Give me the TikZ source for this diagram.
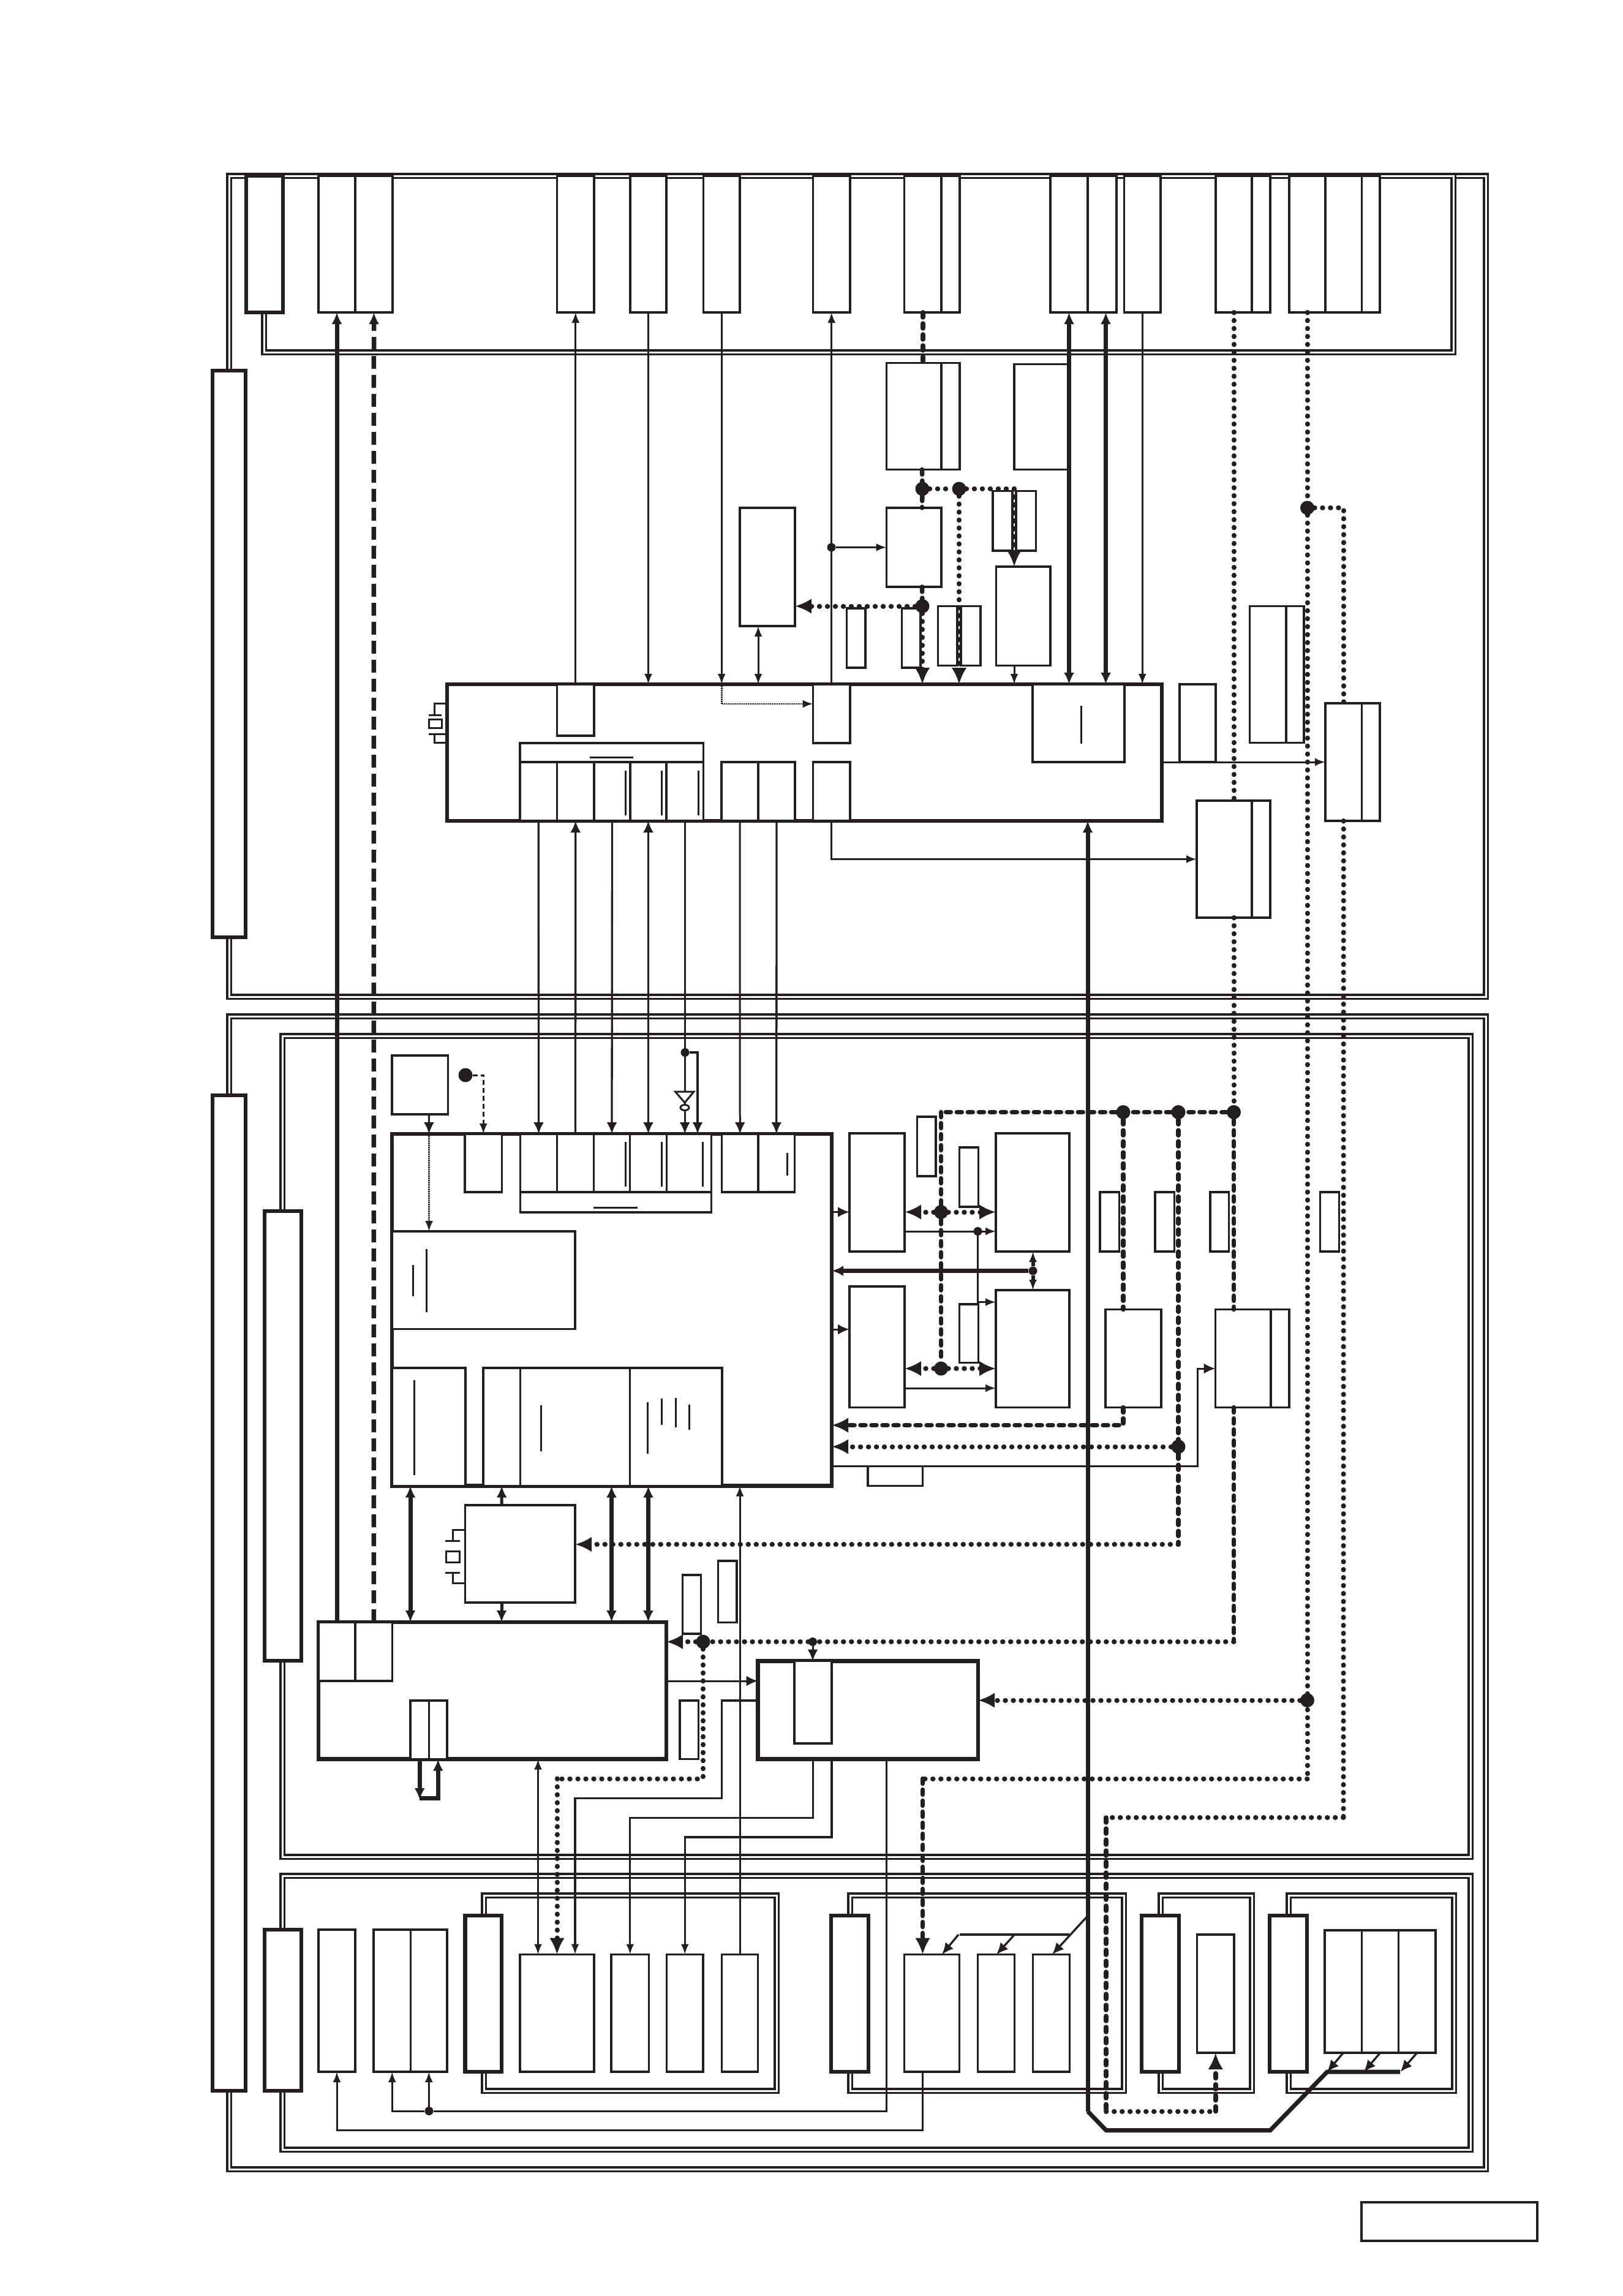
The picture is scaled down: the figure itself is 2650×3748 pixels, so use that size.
\documentclass[tikz,border=0pt]{standalone}
\usepackage{tikz}
\usetikzlibrary{arrows.meta,shapes.geometric}
\definecolor{ink}{HTML}{231F20}
\tikzset{
   smalltip/.tip={Latex[length=17pt,width=13pt]},
   midtip/.tip={Latex[length=19pt,width=17pt]},
   bigtip/.tip={Latex[length=27pt,width=25pt]},
}
\newcommand{\blk}[6][slot]{\node[#1, name=#2, minimum width={#5-#3}, minimum height={#6-#4}] at ({(#3+#5)/2},{(#4+#6)/2}) {};}
\newcommand{\jct}[4][bigdot]{\node[#1, name=#2] at (#3,#4) {};}
\begin{document}
\begin{tikzpicture}[x=1pt,y=-1pt]
  \tikzstyle{slot} = [draw=ink, line width=3.4pt, fill=white, rectangle, inner sep=0pt, outer sep=0pt];
  \tikzstyle{heavy} = [slot, line width=6.5pt];
  \tikzstyle{bay} = [rectangle, draw=ink, line width=3.2pt, double=white, double distance=3pt, inner sep=0pt, outer sep=0pt];
  \tikzstyle{bigdot} = [circle, fill=ink, inner sep=0pt, minimum size=23pt];
  \tikzstyle{smalldot} = [circle, fill=ink, inner sep=0pt, minimum size=14pt];
  \tikzstyle{wire} = [draw=ink, line width=3pt];
  \tikzstyle{midline} = [draw=ink, line width=3.3pt];
  \tikzstyle{bus} = [draw=ink, line width=7pt];
  \tikzstyle{fine} = [draw=ink, line width=2.8pt, dash pattern=on 2pt off 1pt];
  \tikzstyle{slash} = [draw=ink, line width=3pt, dash pattern=on 8pt off 5pt];
  \tikzstyle{longdash} = [draw=ink, line width=7.5pt, dash pattern=on 21pt off 10pt];
  \tikzstyle{dots} = [draw=ink, line width=8pt, line cap=round, dash pattern=on 0.5pt off 12.5pt];
  \tikzstyle{dashes} = [draw=ink, line width=7.5pt, line cap=round, dash pattern=on 8pt off 10pt];
  \tikzstyle{tickmark} = [draw=ink, line width=3pt];
  \useasboundingbox (0,0) rectangle (2650,3748);

  % frames
  \blk[bay]{upperFrame}{374}{287}{2426}{1627}
  \blk[bay]{lowerFrame}{374}{1659}{2426}{3541}
  \blk[bay]{topBay}{431}{287}{2373}{575}
  \blk[bay]{mainBay}{461}{1691}{2401}{3031}
  \blk[bay]{cardBay}{461}{3062}{2401}{3509}
  \blk[bay]{cardA}{790}{3094}{1268}{3413}
  \blk[bay]{cardB}{1388}{3094}{1835}{3413}
  \blk[bay]{cardC}{1895}{3094}{2044}{3413}
  \blk[bay]{cardD}{2104}{3094}{2374}{3413}

  % side bars
  \blk[heavy]{sideTop}{347}{605}{401}{1530}
  \blk[heavy]{sideLow}{347}{1788}{401}{3413}
  \blk[heavy]{sideMain}{432}{1977}{492}{2711}
  \blk[heavy]{sideCard}{432}{3150}{492}{3413}
  \blk[heavy]{headA}{402}{287}{462}{510}

  % top row
  \blk{a1}{520}{287}{580}{510}
  \blk{a2}{580}{287}{641}{510}
  \blk{b1}{909.5}{287}{970}{510}
  \blk{c1}{1029}{287}{1088}{510}
  \blk{d1}{1148.5}{287}{1208}{510}
  \blk{e1}{1327.5}{287}{1388}{510}
  \blk{f1}{1476.5}{287}{1537}{510}
  \blk{f2}{1537}{287}{1567}{510}
  \blk{g1}{1715}{287}{1776}{510}
  \blk{g2}{1776}{287}{1823}{510}
  \blk{h1}{1835.5}{287}{1895}{510}
  \blk{i1}{1985}{287}{2044}{510}
  \blk{i2}{2044}{287}{2074}{510}
  \blk{j1}{2105}{287}{2164}{510}
  \blk{j2}{2164}{287}{2223.5}{510}
  \blk{j3}{2223.5}{287}{2253}{510}

  % upper board
  \blk{memU}{1208}{829}{1298}{1022}
  \blk{rfA}{1447.5}{592.5}{1537}{766.5}
  \blk{rfB}{1537}{592.5}{1567}{766.5}
  \blk{rfC}{1656}{594.5}{1746}{766.5}
  \blk{sensU}{1447.5}{829}{1537}{958}
  \blk{tabA}{1621}{801.5}{1653}{899}
  \blk{tabB}{1659}{801.5}{1691.5}{899}
  \blk{filtU}{1626.5}{925}{1715}{1086.5}
  \blk{padA}{1382.5}{993}{1413}{1090}
  \blk{padB}{1472.5}{993}{1503}{1090}
  \blk{padC}{1531.5}{989.5}{1563}{1086.5}
  \blk{padD}{1569}{989.5}{1601}{1086.5}
  \blk{unitA}{2040.5}{989.5}{2100}{1212.5}
  \blk{unitB}{2100}{989.5}{2129}{1212.5}
  \blk{unitC}{1926}{1117}{1985}{1244}
  \blk{psuA}{1954}{1307}{2044}{1498}
  \blk{psuB}{2044}{1307}{2074}{1498}
  \blk{modA}{2164}{1148}{2223.5}{1340}
  \blk{modB}{2223.5}{1148}{2253}{1340}

  % upper main block
  \blk[heavy]{mainU}{730}{1117}{1897}{1340}
  \blk{portU}{909.5}{1117}{970}{1201}
  \blk{portE}{1327.5}{1117}{1388}{1213}
  \blk{portR}{1686}{1117}{1836}{1244}
  \blk{hdrU}{849}{1213}{1148.5}{1244}
  \blk{u1}{849}{1244}{909.5}{1340}
  \blk{u2}{909.5}{1244}{970}{1340}
  \blk{u3}{970}{1244}{1029}{1340}
  \blk{u4}{1029}{1244}{1088}{1340}
  \blk{u5}{1088}{1244}{1148.5}{1340}
  \blk{u6}{1178}{1244}{1238}{1340}
  \blk{u7}{1238}{1244}{1298}{1340}
  \blk{u8}{1327.5}{1244}{1388}{1340}

  % lower main block
  \blk{oscL}{640}{1723}{731.5}{1819}
  \blk[heavy]{mainL}{640}{1851}{1358}{2425.5}
  \blk{portL}{759}{1851}{819.5}{1946}
  \blk{l1}{849.5}{1851}{909.5}{1946}
  \blk{l2}{909.5}{1851}{969.5}{1946}
  \blk{l3}{969.5}{1851}{1028.5}{1946}
  \blk{l4}{1028.5}{1851}{1088.5}{1946}
  \blk{l5}{1088.5}{1851}{1161.5}{1946}
  \blk{l6}{1178.5}{1851}{1238}{1946}
  \blk{l7}{1238}{1851}{1297.5}{1946}
  \blk{ftrL}{849.5}{1946}{1161.5}{1979}
  \blk{ramL}{640}{2010}{939}{2169.5}
  \blk{coreA}{640}{2233}{760}{2425.5}
  \blk{coreB}{789}{2233}{849.5}{2425.5}
  \blk{coreC}{849.5}{2233}{1028.5}{2425.5}
  \blk{coreD}{1028.5}{2233}{1179}{2425.5}
  \blk{tabL}{1417}{2393.5}{1506.5}{2425.5}
  \blk{clockL}{759.5}{2457}{939}{2616}

  % devices at right of lower block
  \blk{chanA}{1387}{1850}{1477}{2043}
  \blk{memA}{1626}{1850}{1746}{2043}
  \blk{chanB}{1387}{2100}{1477}{2297.5}
  \blk{memB}{1626}{2106}{1746}{2297.5}
  \blk{padE}{1497.5}{1823}{1528}{1920}
  \blk{padF}{1566.5}{1873}{1597.5}{1970}
  \blk{padG}{1566.5}{2129}{1597.5}{2224.5}
  \blk{padH}{1796}{1946}{1827.5}{2043}
  \blk{padI}{1886}{1946}{1917.5}{2043}
  \blk{padJ}{1976}{1946}{2006.5}{2043}
  \blk{padK}{2155.5}{1946}{2186.5}{2043}
  \blk{regA}{1805}{2137.5}{1896}{2297.5}
  \blk{regB}{1984.5}{2137.5}{2075}{2297.5}
  \blk{regC}{2075}{2137.5}{2105}{2297.5}
  \blk{padL}{1114.5}{2571}{1144.5}{2667}
  \blk{padM}{1172.5}{2548}{1203}{2648.5}
  \blk{padN}{1110}{2776}{1140.5}{2871.5}

  % lower row blocks
  \blk[heavy]{blockA}{520}{2648}{1088}{2871.5}
  \blk{upA}{520}{2648}{580}{2744}
  \blk{upB}{580}{2648}{640.5}{2744}
  \blk{lpA}{670}{2776}{700.5}{2871.5}
  \blk{lpB}{700.5}{2776}{730}{2871.5}
  \blk[heavy]{blockB}{1237.5}{2711.5}{1597}{2871.5}
  \blk{tagB}{1297}{2711.5}{1358}{2846}

  % cards
  \blk{e1L}{520}{3150}{580}{3382}
  \blk{e2L}{610}{3150}{670.5}{3382}
  \blk{e3L}{670.5}{3150}{730}{3382}
  \blk[heavy]{barA}{759.5}{3127}{819}{3382}
  \blk{sA}{849}{3190.5}{970}{3382}
  \blk{sB}{998}{3190.5}{1059.5}{3382}
  \blk{sC}{1088.5}{3190.5}{1148}{3382}
  \blk{sD}{1178.5}{3190.5}{1237.5}{3382}
  \blk[heavy]{barB}{1357}{3127}{1418}{3382}
  \blk{tA}{1476.5}{3190.5}{1566.5}{3382}
  \blk{tB}{1596.5}{3190.5}{1656.5}{3382}
  \blk{tC}{1686.5}{3190.5}{1746.5}{3382}
  \blk[heavy]{barC}{1864}{3127}{1925}{3382}
  \blk{vA}{1954.5}{3158}{2015}{3351}
  \blk[heavy]{barD}{2073}{3127}{2134}{3382}
  \blk{q1}{2163}{3151}{2223.5}{3351}
  \blk{q2}{2223.5}{3151}{2283.5}{3351}
  \blk{q3}{2283.5}{3151}{2344}{3351}
  \blk[slot, line width=4pt]{sheetTag}{2223}{3595}{2510}{3658}

  % marks
  \draw[tickmark] (963,1236) -- (1033.5,1236);
  \draw[tickmark] (1021,1258) -- (1021,1331);
  \draw[tickmark] (1080.5,1258) -- (1080.5,1331);
  \draw[tickmark] (1140,1258) -- (1140,1331);
  \draw[tickmark] (1765,1152) -- (1765,1214);
  \draw[tickmark] (969,1971.5) -- (1041,1971.5);
  \draw[tickmark] (1021,1864) -- (1021,1937);
  \draw[tickmark] (1080.5,1864) -- (1080.5,1937);
  \draw[tickmark] (1147,1864) -- (1147,1937);
  \draw[tickmark] (1285,1882) -- (1285,1918.5);
  \draw[tickmark] (674,2065) -- (674,2115.5);
  \draw[tickmark] (696.5,2038.5) -- (696.5,2142);
  \draw[tickmark] (676.5,2253) -- (676.5,2408);
  \draw[tickmark] (883.5,2294) -- (883.5,2369);
  \draw[tickmark] (1057.5,2289) -- (1057.5,2373);
  \draw[tickmark] (1080.5,2283) -- (1080.5,2325.5);
  \draw[tickmark] (1103,2282) -- (1103,2330);
  \draw[tickmark] (1125.5,2293) -- (1125.5,2334);

  % crystals
  \draw[wire] (mainU.west |- 0,1148) -| (709.5,1167);
  \draw[wire] (mainU.west |- 0,1212.5) -| (709.5,1198);
  \draw[wire] (700,1167) -- (721,1167);
  \draw[wire] (700,1198) -- (728,1198);
  \draw[wire] (700.5,1174) rectangle (721,1188);
  \draw[wire] (clockL.west |- 0,2497) -| (739,2515);
  \draw[wire] (clockL.west |- 0,2584) -| (739,2567);
  \draw[wire] (727,2515) -- (751,2515);
  \draw[wire] (727,2567) -- (751,2567);
  \draw[wire] (728,2532) rectangle (750,2550);

  % junctions
  \jct{jA}{1506}{798}
  \jct{jB}{1566}{798}
  \coordinate (jD) at (1656,798);
  \jct{jC}{1506}{989.5}
  \jct[smalldot]{jE}{1357.5}{893.5}
  \jct{jZ}{2134.5}{829}
  \jct{jF}{1834}{1815.5}
  \jct{jG}{1924}{1815.5}
  \jct{jH}{2014.5}{1815.5}
  \coordinate (jK) at (1536.5,1815.5);
  \jct{jI}{1536.5}{1978.5}
  \jct{jJ}{1536.5}{2234}
  \jct[smalldot]{jS}{1596.5}{2010}
  \jct[smalldot]{jT}{1686.5}{2074.5}
  \jct{jN}{1924}{2361.5}
  \jct[smalldot]{jQ}{1118.5}{1718}
  \jct{jL}{1148}{2680}
  \jct[smalldot]{jM}{1327}{2680}
  \jct{jP}{2134.5}{2775.5}
  \jct[smalldot]{jR}{700.5}{3446}
  \node[circle, fill=ink, inner sep=0pt, minimum size=23pt, name=jV] at (760,1755) {};
  \coordinate (jW) at (2134.5,2903.5);
  \coordinate (jX) at (2193.5,2967);
  \coordinate (jY) at (1806,2967);
  \coordinate (jU) at (1806,3446.5);
  \coordinate (xRam) at (1238,0);
  \coordinate (xRfc) at (1505.5,0);
  \coordinate (xGtw) at (1805.5,0);
  \coordinate (xBus) at (1776,0);

  % upper connectors
  \draw[bus,-{midtip}] (upA.north) -- (a1.south);
  \draw[longdash,-{midtip}] (upB.north) -- (a2.south);
  \draw[wire,-{smalltip}] (u2.north |- mainU.north) -- (b1.south);
  \draw[midline,-{smalltip}] (c1.south) -- (c1.south |- mainU.north);
  \draw[midline,-{smalltip}] (d1.south) -- (d1.south |- mainU.north);
  \draw[wire,{smalltip}-{smalltip}] (xRam |- memU.south) -- (xRam |- mainU.north);
  \draw[wire,-{smalltip}] (portE.north) -- (e1.south);
  \draw[wire,-{smalltip}] (jE) -- (sensU.west);
  \draw[fine,-{smalltip}] (d1.south |- mainU.north) |- (portE.west |- 0,1149);
  \draw[dashes] (f1.south) -- (f1.south |- rfA.north);
  \draw[dashes] (xRfc |- rfA.south) -- (jA);
  \draw[dashes] (jA) -- (xRfc |- sensU.north);
  \draw[dots] (jA) -- (jB);
  \draw[dots] (jB) -- (jD);
  \draw[dots,-{bigtip}] (jD) -- (jD |- filtU.north);
  \draw[wire,-{smalltip}] (jD |- filtU.south) -- (jD |- mainU.north);
  \draw[dashes] (xRfc |- sensU.south) -- (jC);
  \draw[dots,-{bigtip}] (jC) -- (memU.east |- jC);
  \draw[dots,-{bigtip}] (jC) -- (jC |- mainU.north);
  \draw[dots,-{bigtip}] (jB) -- (jB |- mainU.north);
  \draw[bus,{midtip}-{midtip}] (g1.south) -- (g1.south |- mainU.north);
  \draw[bus,{midtip}-{midtip}] (xGtw |- g2.south) -- (xGtw |- mainU.north);
  \draw[wire,-{smalltip}] (h1.south) -- (h1.south |- mainU.north);
  \draw[wire,-{smalltip}] (modA.west -| mainU.east) -- (modA.west);
  \draw[wire,-{smalltip}] (u8.south) |- (psuA.west);
  \draw[dots] (i1.south) -- (i1.south |- psuA.north);
  \draw[dots] (i1.south |- psuA.south) -- (jH);
  \draw[dots] (j1.south) -- (jZ);
  \draw[dots] (jZ) -- (jW);
  \draw[dots] (jZ) -| (modA.north);

  % between boards
  \draw[midline,-{midtip}] (u1.south) -- (l1.north);
  \draw[midline,-{midtip}] (l2.north) -- (u2.south);
  \draw[midline,-{midtip}] (u3.south) -- (l3.north);
  \draw[midline,{midtip}-{midtip}] (u4.south) -- (l4.north);
  \draw[midline,-{midtip}] (u5.south) -- (u5.south |- l5.north);
  \draw[midline,-{midtip}] (jQ) -| (1139,1851);
  \draw[wire,-{midtip}] (u6.south) -- (l6.north);
  \draw[midline,-{midtip}] (u7.south) -- (l7.north);
  \draw[draw=ink, line width=3pt, fill=white] (1102.5,1782) -- (1133,1782) -- (1118,1800) -- cycle;
  \node[ellipse, draw=ink, line width=3pt, fill=white, inner sep=0pt, minimum width=14pt, minimum height=9pt, name=invL] at (1118,1808) {};

  % around lower main block
  \draw[midline,-{midtip}] (oscL.south -| 700.5,0) -- (mainL.north -| 700.5,0);
  \draw[fine,-{smalltip}] (mainL.north -| 700.5,0) -- (ramL.north -| 700.5,0);
  \draw[slash,-{smalltip}] (jV) -| (portL.north);
  \draw[bus,{midtip}-{midtip}] (mainL.south -| 670,0) -- (blockA.north -| 670,0);
  \draw[midline,line width=5pt,-{midtip}] (clockL.north -| 819,0) -- (coreB.south);
  \draw[midline,line width=5pt,-{midtip}] (clockL.south -| 819,0) -- (blockA.north -| 819,0);
  \draw[bus,{midtip}-{midtip}] (mainL.south -| 998.5,0) -- (blockA.north -| 998.5,0);
  \draw[bus,{midtip}-{midtip}] (mainL.south -| 1058.5,0) -- (blockA.north -| 1058.5,0);
  \draw[wire,-{smalltip}] (sD.north) -- (sD.north |- mainL.south);
  \draw[wire,-{midtip}] (mainL.east |- 0,1978.5) -- (chanA.west |- 0,1978.5);
  \draw[wire,-{midtip}] (mainL.east |- 0,2170) -- (chanB.west |- 0,2170);
  \draw[dashes] (jK) -- (jI);
  \draw[dashes] (jI) -- (jJ);
  \draw[dashes] (jH) -- (jG);
  \draw[dashes] (jG) -- (jF);
  \draw[dashes] (jF) -- (jK);
  \draw[dots,-{bigtip}] (jI) -- (chanA.east |- jI);
  \draw[dots,-{bigtip}] (jI) -- (memA.west |- jI);
  \draw[dots,-{bigtip}] (jJ) -- (chanB.east |- jJ);
  \draw[dots,-{bigtip}] (jJ) -- (memB.west |- jJ);
  \draw[wire,-{smalltip}] (chanA.east |- jS) -- (memA.west |- jS);
  \draw[wire,-{smalltip}] (jS) |- (memB.west |- 0,2125.5);
  \draw[wire,-{smalltip}] (chanB.east |- 0,2266) -- (memB.west |- 0,2266);
  \draw[midline,line width=6pt,-{smalltip}] (jT) -- (jT |- memA.south);
  \draw[midline,line width=6pt,-{smalltip}] (jT) -- (jT |- memB.north);
  \draw[bus,-{midtip}] (jT) -- (jT -| mainL.east);
  \draw[dashes] (jF) -- (jF |- regA.north);
  \draw[dashes,-{bigtip}] (jF |- regA.south) |- (mainL.east |- 0,2326.5);
  \draw[dashes] (jG) -- (jN);
  \draw[dots,-{bigtip}] (jN) -- (jN -| mainL.east);
  \draw[dashes] (jN) -- (1924,2521);
  \draw[dots,-{bigtip}] (1924,2521) -- (clockL.east |- 0,2521);
  \draw[wire,-{midtip}] (mainL.east |- 0,2393.5) -- (1955,2393.5) |- (regB.west |- jJ);
  \draw[dashes] (jH) -- (jH |- regB.north);
  \draw[dashes] (jH |- regB.south) -- (jH |- jL);
  \draw[dots,-{bigtip}] (jL) -- (blockA.east |- jL);
  \draw[dots] (jM) -- (jL);
  \draw[dots] (jH |- jM) -- (jM);
  \draw[wire,-{midtip}] (jM) -- (jM |- blockB.north);
  \draw[dots,-{bigtip}] (jP) -- (blockB.east |- jP);

  % lower row
  \draw[wire,-{midtip}] (upB.south -| blockA.east) -- (upB.south -| blockB.west);
  \draw[bus,-{midtip}] (lpA.south) -- (lpA.south |- 0,2938);
  \draw[bus,-{midtip}] (lpA.south |- 0,2935) -| (lpB.south);
  \draw[wire,{smalltip}-{smalltip}] (blockA.south -| 878.5,0) -- (sA.north -| 878.5,0);
  \draw[dots] (jL) |- (jW -| sA.north);
  \draw[dots,-{bigtip}] (sA.north |- jW) -- (sA.north);
  \draw[midline,-{smalltip}] (blockB.west |- 0,2776) -| (1178.5,2935.5) -| (sA.north -| 939,0);
  \draw[midline,-{smalltip}] (blockB.south -| tagB.south) |- (sB.north |- 0,2967.5) -- (sB.north);
  \draw[midline,-{smalltip}] (blockB.south -| tagB.east) |- (sC.north |- 0,2999) -- (sC.north);
  \draw[wire] (blockB.south -| 1447.5,0) |- (jR);
  \draw[wire,-{smalltip}] (jR) -- (e3L.south);
  \draw[wire,-{smalltip}] (jR) -| (e2L.south);
  \draw[wire,-{smalltip}] (tA.south -| 1506.5,0) |- (e1L.south |- 0,3477.5) -- (e1L.south);
  \draw[dots] (jW) -- (1506.5,2903.5);
  \draw[dashes,-{bigtip}] (1506.5,2903.5) -- (tA.north -| 1506.5,0);

  % rails at right
  \draw[bus,-{midtip}] (xBus |- jU) -- (xBus |- mainU.south);
  \draw[bus] (xBus |- jU) -- (1806,3477.5) -- (2074,3477.5) -- (2167,3382) -- (2286,3382);
  \draw[midline] (1566.5,3158) -- (1746,3158);
  \draw[midline,-{midtip}] (1565,3158) -- (1538,3190.5);
  \draw[midline,-{midtip}] (tB.east |- 0,3158) -- (1627,3190.5);
  \draw[midline,-{midtip}] (1774.5,3129) -- (1718,3190.5);
  \draw[midline,-{midtip}] (q1.south) -- (2167,3382);
  \draw[midline,-{midtip}] (q2.south) -- (2227,3382);
  \draw[midline,-{midtip}] (q3.south) -- (2286.5,3382);
  \draw[dots] (modA.south) -- (jX);
  \draw[dots] (jX) -- (jY);
  \draw[dashes] (jY) -- (jU);
  \draw[dots] (jU) -- (vA.south |- jU);
  \draw[dashes,-{bigtip}] (vA.south |- jU) -- (vA.south);
\end{tikzpicture}
\end{document}
